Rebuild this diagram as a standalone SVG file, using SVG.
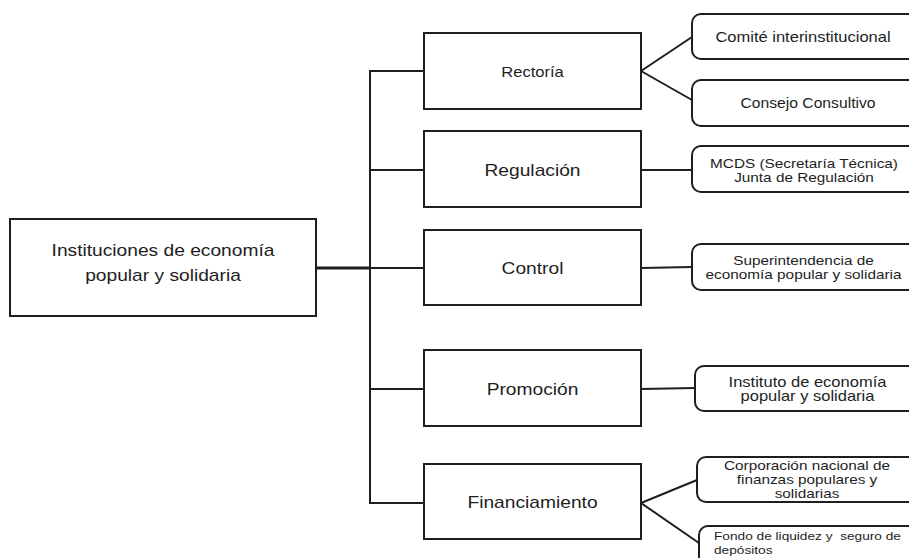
<svg xmlns="http://www.w3.org/2000/svg" width="909" height="558" viewBox="0 0 909 558">
<style>
.box{fill:#fff;stroke:#1e1e1e;stroke-width:2}
.rbox{fill:#fff;stroke:#1e1e1e;stroke-width:2}
.ln{fill:none;stroke:#1e1e1e;stroke-width:2}
.thick{stroke-width:3}
text{font-family:"Liberation Sans",Arial,sans-serif;fill:#1e1e1e;text-anchor:middle}
.t16{font-size:16px}
.t14{font-size:14px}
.t13{font-size:13px}
.t12{font-size:11.5px;text-anchor:start;white-space:pre}
</style>
<rect width="909" height="558" fill="#fff"/>
<g id="connectors">
<line class="ln thick" x1="316" y1="268" x2="370" y2="268"/>
<line class="ln" x1="370" y1="70" x2="370" y2="504"/>
<line class="ln" x1="370" y1="71" x2="424" y2="71"/>
<line class="ln" x1="370" y1="170" x2="424" y2="170"/>
<line class="ln" x1="370" y1="268" x2="424" y2="268"/>
<line class="ln" x1="370" y1="389" x2="424" y2="389"/>
<line class="ln" x1="370" y1="503" x2="424" y2="503"/>
<line class="ln" x1="641" y1="71" x2="692" y2="37"/>
<line class="ln" x1="641" y1="71" x2="692" y2="100"/>
<line class="ln" x1="641" y1="170" x2="692" y2="170"/>
<line class="ln" x1="641" y1="268" x2="692" y2="267"/>
<line class="ln" x1="641" y1="389" x2="695" y2="388"/>
<line class="ln" x1="641" y1="503" x2="697" y2="480"/>
<line class="ln" x1="641" y1="503" x2="699" y2="543"/>
</g>
<g id="main">
<rect class="box" x="10" y="219" width="306" height="97"/>
<text class="t16" transform="matrix(1.2 0 0 1 163 0)" x="0" y="256">Instituciones de economía</text>
<text class="t16" transform="matrix(1.2 0 0 1 163 0)" x="0" y="281">popular y solidaria</text>
</g>
<g id="rectoria">
<rect class="box" x="424" y="33" width="217" height="76"/>
<text class="t14" transform="matrix(1.18 0 0 1 532.5 0)" x="0" y="77">Rectoría</text>
</g>
<g id="regulacion">
<rect class="box" x="424" y="131" width="217" height="76"/>
<text class="t16" transform="matrix(1.2 0 0 1 532.5 0)" x="0" y="176">Regulación</text>
</g>
<g id="control">
<rect class="box" x="424" y="230" width="217" height="75"/>
<text class="t16" transform="matrix(1.2 0 0 1 532.5 0)" x="0" y="274">Control</text>
</g>
<g id="promocion">
<rect class="box" x="424" y="350" width="217" height="76"/>
<text class="t16" transform="matrix(1.2 0 0 1 532.5 0)" x="0" y="395">Promoción</text>
</g>
<g id="financiamiento">
<rect class="box" x="424" y="464" width="217" height="75"/>
<text class="t16" transform="matrix(1.2 0 0 1 532.5 0)" x="0" y="508">Financiamiento</text>
</g>
<g id="comite">
<rect class="rbox" x="692" y="14" width="230" height="45" rx="9"/>
<text class="t14" transform="matrix(1.18 0 0 1 803 0)" x="0" y="42">Comité interinstitucional</text>
</g>
<g id="consejo">
<rect class="rbox" x="692" y="80" width="230" height="46" rx="9"/>
<text class="t14" transform="matrix(1.12 0 0 1 808 0)" x="0" y="108">Consejo Consultivo</text>
</g>
<g id="mcds">
<rect class="rbox" x="692" y="146" width="230" height="46" rx="9"/>
<text class="t13" transform="matrix(1.18 0 0 1 804 0)" x="0" y="168">MCDS (Secretaría Técnica)</text>
<text class="t13" transform="matrix(1.18 0 0 1 804 0)" x="0" y="182">Junta de Regulación</text>
</g>
<g id="superintendencia">
<rect class="rbox" x="692" y="244" width="230" height="46" rx="9"/>
<text class="t13" transform="matrix(1.18 0 0 1 803.5 0)" x="0" y="265">Superintendencia de</text>
<text class="t13" transform="matrix(1.18 0 0 1 803.5 0)" x="0" y="279">economía popular y solidaria</text>
</g>
<g id="instituto">
<rect class="rbox" x="695" y="366" width="230" height="45" rx="9"/>
<text class="t14" transform="matrix(1.18 0 0 1 807.5 0)" x="0" y="387">Instituto de economía</text>
<text class="t14" transform="matrix(1.18 0 0 1 807.5 0)" x="0" y="401">popular y solidaria</text>
</g>
<g id="corporacion">
<rect class="rbox" x="697" y="457" width="230" height="45" rx="9"/>
<text class="t13" transform="matrix(1.18 0 0 1 807 0)" x="0" y="470">Corporación nacional de</text>
<text class="t13" transform="matrix(1.18 0 0 1 807 0)" x="0" y="484">finanzas populares y</text>
<text class="t13" transform="matrix(1.18 0 0 1 807 0)" x="0" y="498">solidarias</text>
</g>
<g id="fondo">
<rect class="rbox" x="699" y="526" width="230" height="50" rx="9"/>
<text class="t12" transform="matrix(1.19 0 0 1 714 0)" x="0" y="540">Fondo de liquidez y  seguro de</text>
<text class="t12" transform="matrix(1.19 0 0 1 714 0)" x="0" y="554">depósitos</text>
</g>
</svg>
